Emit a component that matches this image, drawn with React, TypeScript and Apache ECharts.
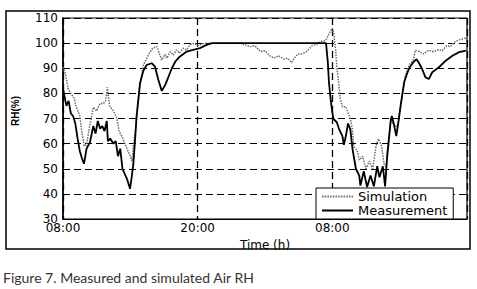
import React, { useEffect, useRef } from "react";
import * as echarts from "echarts";

// Hours elapsed since 08:00 on day 1, and relative humidity (%)
const measHours = [
  0, 0.3, 0.5, 0.7, 0.9, 1.1, 1.3, 1.5, 1.7, 1.87, 2.1, 2.4, 2.7, 2.9, 3.1, 3.3, 3.5, 3.7, 3.9, 4.0,
  4.2, 4.5, 4.7, 4.9, 5.1, 5.3, 5.5, 5.7, 5.97, 6.1, 6.27, 6.42, 6.56, 6.86, 7.16, 7.45, 7.9, 8.2, 8.5, 8.8,
  9.1, 9.4, 9.7, 10.0, 10.4, 11.0, 11.6, 12.2, 12.8, 13.3, 23.44, 23.6, 23.7, 23.85, 24.0, 24.1, 24.4, 24.6, 24.9, 25.03,
  25.2, 25.4, 25.6, 25.8, 26.1, 26.4, 26.5, 26.8, 27.1, 27.4, 27.7, 28.0, 28.2, 28.5, 28.7, 28.9, 29.2, 29.3, 29.5, 29.7,
  29.9, 30.1, 30.4, 30.7, 30.9, 31.2, 31.5, 31.7, 32.0, 32.3, 32.6, 32.9, 33.5, 34.1, 34.7, 35.3, 35.9,
];
const measRH = [
  82, 75, 77, 72, 71, 68, 62, 57, 54, 52, 58, 60.5, 67, 64, 69, 66, 67, 65, 69, 61,
  62, 60, 61, 55, 58, 50, 48, 46, 42, 46, 52, 61.5, 71, 84, 89, 91.3, 92, 90.6, 85.3, 81,
  83.3, 86.6, 90, 92.6, 94.6, 96.6, 97.3, 98, 99.3, 100, 100, 92.3, 84.3, 77.7, 72.4, 69.8, 68.5, 65.8, 63, 59.5,
  63, 68, 65.8, 57.8, 50, 47.3, 43.3, 49, 42.7, 47.3, 43, 51, 46.6, 51, 43, 55.9, 69, 71, 67.5, 63,
  69, 75.5, 84.4, 88.4, 90.4, 92.3, 93.6, 92.3, 89.7, 86.4, 85.7, 88.4, 90.4, 93, 95, 96.4, 97,
];

const simHours = [
  0, 0.2, 0.45, 0.7, 1.0, 1.15, 1.5, 1.7, 1.9, 2.1, 2.4, 2.7, 3.0, 3.3, 3.6, 3.8, 3.95, 4.15, 4.5, 4.8,
  5.0, 5.3, 5.6, 5.8, 6.0, 6.15, 6.3, 6.45, 6.6, 6.86, 7.16, 7.7, 8.0, 8.35, 8.8, 9.1, 9.25, 9.55, 9.85, 10.1,
  10.4, 10.7, 11.0, 11.3, 11.7, 12.0, 12.5, 13.0, 15.8, 16.2, 16.7, 17.1, 17.6, 18.0, 18.4, 18.8, 19.2, 19.7, 20.0, 20.4,
  20.6, 20.9, 21.3, 21.7, 22.0, 22.2, 22.6, 22.9, 23.4, 23.7, 24.0, 24.15, 24.3, 24.4, 24.6, 24.7, 24.9, 25.2, 25.3, 25.6,
  25.8, 25.9, 26.2, 26.4, 26.7, 27.0, 27.3, 27.6, 27.9, 28.1, 28.4, 28.6, 28.8, 29.0, 29.2, 29.5, 29.8, 30.1, 30.5, 30.9,
  31.2, 31.4, 31.7, 32.1, 32.6, 33.0, 33.5, 33.8, 34.2, 34.5, 35.0, 35.3, 35.9,
];
const simRH = [
  90.5, 88, 82, 80, 78, 75, 71, 64, 59, 59.5, 67.6, 74.5, 73, 76, 76, 77, 82.4, 75, 73, 70,
  65, 62.4, 59, 57, 55, 53, 60, 65, 72, 83, 91.3, 96, 98, 98.7, 93.3, 95.6, 94, 96.6, 95.3, 97.3,
  96, 98, 97.3, 99.3, 100, 99, 99.8, 100, 100, 99.3, 98.6, 99, 96.6, 97, 95, 94, 95, 93.6, 94, 92.2,
  94, 95.6, 95.8, 96.6, 98, 99, 99.5, 100.6, 101, 103.7, 106, 103, 97, 90.6, 82.6, 78, 74.7, 74.7, 73.4, 70,
  65.4, 58.8, 57.5, 53.5, 55, 50, 53, 50, 59.2, 61.9, 59, 52, 50.6, 58, 69.8, 67, 67, 75.5, 87, 91.7,
  93, 97.2, 96.8, 95.7, 97.2, 96.6, 97.4, 97, 99, 98.6, 100.8, 101.3, 102,
];

const xTickLabels = ["08:00", "20:00", "08:00"];
const seriesNames = ["Simulation", "Measurement"];
const yAxisTitle = "RH(%)";
const xAxisTitle = "Time (h)";
const caption = "Figure 7. Measured and simulated Air RH";

export default function App() {
  const ref = useRef<HTMLDivElement>(null);

  useEffect(() => {
    if (!ref.current) return;
    const chart = echarts.init(ref.current, undefined, { renderer: "svg" });
    const font = "DejaVu Sans";
    chart.setOption({
      animation: false,
      backgroundColor: "#fff",
      grid: {
        left: 63,
        top: 18,
        right: 10,
        bottom: 70,
        show: true,
        borderColor: "#000",
        borderWidth: 1.2,
      },
      xAxis: {
        type: "value",
        min: 0,
        max: 36,
        interval: 12,
        name: xAxisTitle,
        nameLocation: "middle",
        nameGap: 11,
        nameTextStyle: { fontFamily: font, fontSize: 12, color: "#000" },
        axisLine: { show: true, lineStyle: { color: "#000", width: 1.2 } },
        axisTick: { show: false },
        axisLabel: {
          margin: 3,
          fontFamily: font,
          fontSize: 12,
          color: "#000",
          showMaxLabel: false,
          formatter: (v: number) => {
            const i = Math.round(v / 12);
            return i < xTickLabels.length ? xTickLabels[i] : "";
          },
        },
        splitLine: { show: true, lineStyle: { color: "#000", type: [7, 4], width: 1.3 } },
      },
      yAxis: {
        type: "value",
        min: 30,
        max: 110,
        interval: 10,
        axisLine: { show: true, lineStyle: { color: "#000", width: 1.5 } },
        axisTick: { show: false },
        axisLabel: { margin: 5, fontFamily: font, fontSize: 12, color: "#000" },
        splitLine: { show: true, lineStyle: { color: "#000", type: [7, 4], width: 1 } },
      },
      legend: {
        orient: "vertical",
        left: 316,
        top: 188,
        padding: [2, 6, 2, 5],
        itemGap: 1,
        itemWidth: 31,
        itemHeight: 12,
        borderColor: "#000",
        borderWidth: 1,
        borderRadius: 0,
        backgroundColor: "#fff",
        itemStyle: { opacity: 0 },
        textStyle: { fontFamily: font, fontSize: 13, color: "#000" },
        data: seriesNames,
      },
      series: [
        {
          name: seriesNames[0],
          type: "line",
          symbol: "none",
          data: simHours.map((h, i) => [h, simRH[i]]),
          lineStyle: { color: "#6a6a6a", width: 1.5, type: [1.5, 1.2] },
          itemStyle: { color: "#6a6a6a" },
          z: 2,
        },
        {
          name: seriesNames[1],
          type: "line",
          symbol: "none",
          data: measHours.map((h, i) => [h, measRH[i]]),
          lineStyle: { color: "#000", width: 1.8 },
          itemStyle: { color: "#000" },
          z: 3,
        },
      ],
      graphic: [
        {
          type: "rect",
          shape: { x: 6, y: 11, width: 464, height: 238 },
          style: { fill: "none", stroke: "#000", lineWidth: 1.5 },
          silent: true,
          z: -1,
        },
        {
          type: "text",
          x: 15,
          y: 111,
          rotation: Math.PI / 2,
          style: {
            text: yAxisTitle,
            fontFamily: "Liberation Sans",
            fontWeight: "bold",
            fontSize: 10,
            fill: "#000",
            align: "center",
            verticalAlign: "middle",
          },
        },
        {
          type: "text",
          x: 3,
          y: 277,
          style: {
            text: caption,
            fontFamily: "Lato",
            fontSize: 14,
            fill: "#333",
            align: "left",
            verticalAlign: "middle",
          },
        },
      ],
    });
    return () => chart.dispose();
  }, []);

  return (
    <div
      ref={ref}
      style={{ position: "absolute", left: 0, top: 0, width: 477, height: 289 }}
    />
  );
}
